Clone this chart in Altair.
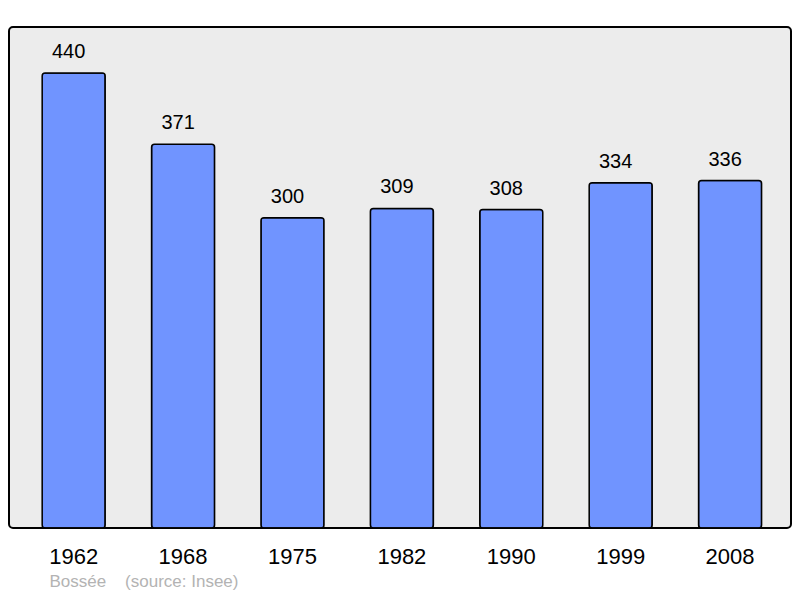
import altair as alt
import pandas as pd

years = ["1962", "1968", "1975", "1982", "1990", "1999", "2008"]
population = [440, 371, 300, 309, 308, 334, 336]
source_text = "Bossée\u00a0\u00a0\u00a0\u00a0(source: Insee)"

df = pd.DataFrame({"year": years, "pop": population})

FONT = "Liberation Sans"

x = alt.X(
    "year:N",
    sort=years,
    scale=alt.Scale(paddingInner=0.424, paddingOuter=0.286, align=0.53),
    axis=alt.Axis(
        title=source_text,
        titleAnchor="start",
        titleAlign="left",
        titleX=40,
        titleY=58,
        titleBaseline="alphabetic",
        titleFont=FONT,
        titleFontSize=17,
        titleFontWeight="normal",
        titleColor="#b3b3b3",
        labelAngle=0,
        labelFont=FONT,
        labelFontSize=22,
        labelColor="black",
        labelPadding=18,
        domain=False,
        ticks=False,
    ),
)
y = alt.Y("pop:Q", scale=alt.Scale(domain=[0, 484.5], nice=False), axis=None)

bars = alt.Chart(df).mark_bar(
    color="#7094ff", stroke="black", strokeWidth=1.5, cornerRadius=3
).encode(x=x, y=y)

labels = alt.Chart(df).mark_text(
    font=FONT, fontSize=20, color="black", baseline="alphabetic", dy=-15, dx=-5
).encode(x=x, y=y, text="pop:Q")

chart = (
    alt.layer(bars, labels)
    .properties(
        width=782,
        height=501,
        background="white",
        autosize=alt.AutoSizeParams(type="none"),
        padding={"left": 1, "top": 19, "right": 1, "bottom": 62},
    )
    .configure_view(fill="#ececec", stroke="black", strokeWidth=2, cornerRadius=4)
)

chart.save("out.html", embed_options={"renderer": "svg", "actions": False})
